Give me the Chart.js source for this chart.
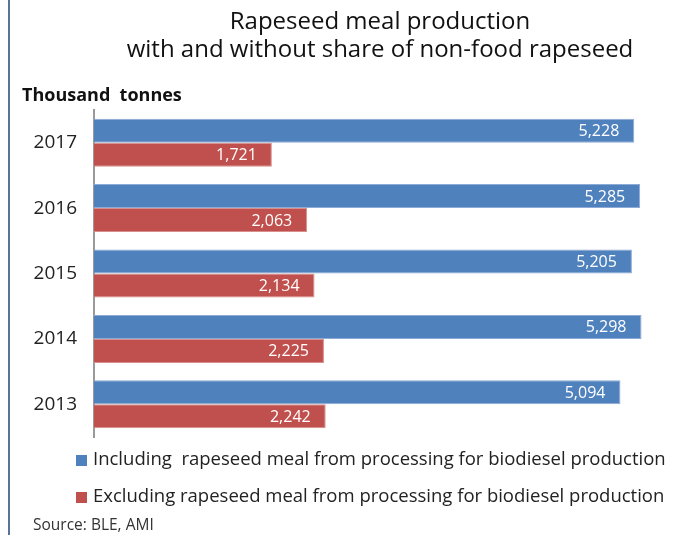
<!DOCTYPE html>
<html>
<head>
<meta charset="utf-8">
<script src="https://cdn.jsdelivr.net/npm/chart.js@4.4.0/dist/chart.umd.min.js"></script>
<style>
  html, body { margin: 0; padding: 0; background: #fff; }
</style>
</head>
<body>
<canvas id="mealChart" width="681" height="535"></canvas>
<script>
const years = ['2017', '2016', '2015', '2014', '2013'];
const includingBiodiesel = [5228, 5285, 5205, 5298, 5094];
const excludingBiodiesel = [1721, 2063, 2134, 2225, 2242];
const seriesNames = [
  'Including  rapeseed meal from processing for biodiesel production',
  'Excluding rapeseed meal from processing for biodiesel production'
];
const titleLines = ['Rapeseed meal production', 'with and without share of non-food rapeseed'];
const unitLabel = 'Thousand  tonnes';
const sourceNote = 'Source: BLE, AMI';

const FONT = '"Open Sans", "Noto Sans", sans-serif';

// white value labels at the inner end of each bar
const valueLabels = {
  id: 'valueLabels',
  afterDatasetsDraw(chart) {
    const ctx = chart.ctx;
    ctx.save();
    ctx.font = '16px ' + FONT;
    ctx.fillStyle = '#fff';
    ctx.textAlign = 'right';
    ctx.textBaseline = 'middle';
    chart.data.datasets.forEach((ds, i) => {
      chart.getDatasetMeta(i).data.forEach((bar, j) => {
        ctx.fillText(ds.data[j].toLocaleString('en-US'), bar.x - 15, bar.y + 1);
      });
    });
    ctx.restore();
  }
};

// frame line, titles, legend and source note
const decorations = {
  id: 'decorations',
  afterDraw(chart) {
    const ctx = chart.ctx;
    ctx.save();

    ctx.strokeStyle = '#5b7396';
    ctx.lineWidth = 2;
    ctx.beginPath();
    ctx.moveTo(9, 0);
    ctx.lineTo(9, chart.height);
    ctx.stroke();

    ctx.fillStyle = '#111';
    ctx.textAlign = 'center';
    ctx.textBaseline = 'middle';
    ctx.font = '24px ' + FONT;
    ctx.fillText(titleLines[0], 380, 22);
    ctx.fillText(titleLines[1], 380, 50);

    ctx.textAlign = 'left';
    ctx.font = 'bold 18px ' + FONT;
    ctx.fillText(unitLabel, 22, 96);

    ctx.font = '18.5px ' + FONT;
    chart.data.datasets.forEach((ds, i) => {
      const y = 460 + i * 37;
      ctx.fillStyle = ds.backgroundColor;
      ctx.fillRect(76, y - 5, 11, 11);
      ctx.fillStyle = '#222';
      ctx.fillText(ds.label, 93, y);
    });

    ctx.font = '15.5px ' + FONT;
    ctx.fillStyle = '#333';
    ctx.fillText(sourceNote, 33, 526);

    ctx.restore();
  }
};

new Chart(document.getElementById('mealChart'), {
  type: 'bar',
  data: {
    labels: years,
    datasets: [
      {
        label: seriesNames[0],
        data: includingBiodiesel,
        backgroundColor: '#4f81bd',
        borderColor: '#8eaad6',
        borderWidth: 1,
        borderSkipped: 'start'
      },
      {
        label: seriesNames[1],
        data: excludingBiodiesel,
        backgroundColor: '#c0504d',
        borderColor: '#d98f8d',
        borderWidth: 1,
        borderSkipped: 'start'
      }
    ]
  },
  options: {
    indexAxis: 'y',
    responsive: false,
    animation: false,
    devicePixelRatio: 1,
    categoryPercentage: 0.734,
    barPercentage: 1.0,
    layout: { padding: { top: 110, bottom: 98, left: 0, right: 0 } },
    plugins: {
      legend: { display: false },
      title: { display: false },
      tooltip: { enabled: false }
    },
    scales: {
      x: { display: false, min: 0, max: 5680 },
      y: {
        grid: { display: false, drawTicks: false },
        border: { display: true, color: '#9a9a9a', width: 2 },
        ticks: { font: { size: 19, family: FONT }, color: '#222', padding: 17 },
        afterFit(scale) { scale.width = 94; }
      }
    }
  },
  plugins: [valueLabels, decorations]
});
</script>
</body>
</html>
